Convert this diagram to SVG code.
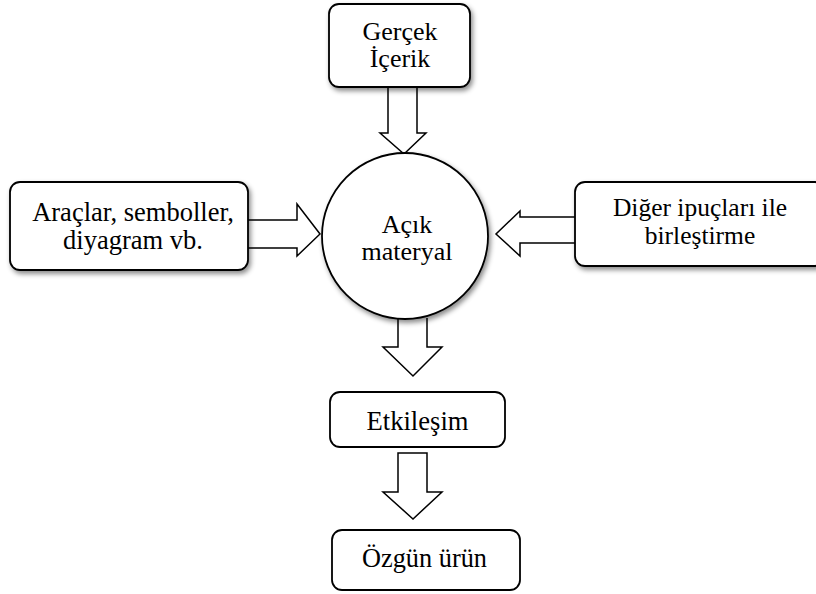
<svg xmlns="http://www.w3.org/2000/svg" width="816" height="594" viewBox="0 0 816 594">
<defs>
<filter id="sh" x="-10%" y="-10%" width="130%" height="130%">
<feDropShadow dx="2" dy="3" stdDeviation="2.5" flood-color="#000" flood-opacity="0.45"/>
</filter>
</defs>
<style>
.box{fill:#fff;stroke:#000;stroke-width:1.8}
.arr{fill:#fff;stroke:#000;stroke-width:1.5;stroke-linejoin:miter}
</style>
<rect width="816" height="594" fill="#fff"/>
<g id="connectors">
<path class="arr" d="M388,87 V133 H380 L404,154 L426,133 H417 V87"/>
<path class="arr" d="M248,220 H297 V204 L320,234 L297,256 V248 H248"/>
<path class="arr" d="M575,217 H520 V211 L496,234 L520,256 V243 H575"/>
<path class="arr" d="M398,318 V347 H383 L413,376 L442,347 H427 V318"/>
<path class="arr" d="M398,453 V492 H383 L413,519 L442,492 H427 V453 Z"/>
</g>
<g font-family="Liberation Serif" font-size="26" text-anchor="middle" fill="#000">
<g id="gercek">
<rect class="box" x="329" y="4" width="141" height="83" rx="10" filter="url(#sh)"/>
<text x="400" y="39.5">Gerçek</text>
<text x="400" y="67">İçerik</text>
</g>
<g id="araclar">
<rect class="box" x="10" y="182" width="238" height="88" rx="10" filter="url(#sh)"/>
<text x="133" y="221" font-size="26.5">Araçlar, semboller,</text>
<text x="133" y="249" font-size="26.5">diyagram vb.</text>
</g>
<g id="diger">
<rect class="box" x="575" y="182" width="250" height="84" rx="10" filter="url(#sh)"/>
<text x="700" y="216" font-size="25.5">Diğer ipuçları ile</text>
<text x="700" y="243.5" font-size="25.5">birleştirme</text>
</g>
<g id="acik">
<circle class="box" cx="405" cy="236" r="83" filter="url(#sh)"/>
<text x="407" y="233">Açık</text>
<text x="407" y="260">materyal</text>
</g>
<g id="etkilesim">
<rect class="box" x="330" y="392" width="175" height="55" rx="10"/>
<text x="417.5" y="430" font-size="26.6">Etkileşim</text>
</g>
<g id="ozgun">
<rect class="box" x="332" y="530" width="188" height="60" rx="10"/>
<text x="424.5" y="567" font-size="26.3">Özgün ürün</text>
</g>
</g>
</svg>
